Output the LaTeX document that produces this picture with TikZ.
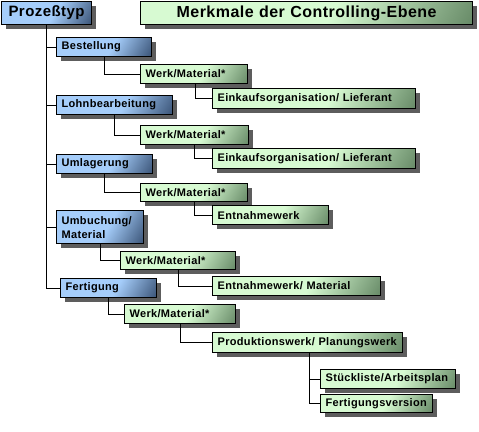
\documentclass[tikz,border=0pt]{standalone}
\usepackage{fontspec}
\setmainfont{Liberation Sans}[LetterSpace=3]
\usetikzlibrary{shadows}
\definecolor{bluelt}{RGB}{165,205,250}
\definecolor{bluedk}{RGB}{55,80,115}
\definecolor{greenlt}{RGB}{215,250,210}
\definecolor{greendk}{RGB}{100,135,100}
\pgfdeclarehorizontalshading{blueshade}{100bp}{color(0bp)=(bluelt); color(55bp)=(bluelt); color(85bp)=(bluedk); color(100bp)=(bluedk)}
\pgfdeclarehorizontalshading{greenshade}{100bp}{color(0bp)=(greenlt); color(55bp)=(greenlt); color(85bp)=(greendk); color(100bp)=(greendk)}
\tikzset{
  box/.style={draw=black, line width=1.2pt, anchor=north west, inner xsep=5pt, inner ysep=0pt,
    align=left, font=\bfseries\fontsize{11}{14}\selectfont,
    drop shadow={shadow xshift=4pt, shadow yshift=-4pt, fill=black!70, opacity=0.9}},
  bluebox/.style={box, shade, shading=blueshade, shading angle=-30},
  greenbox/.style={box, shade, shading=greenshade, shading angle=-30},
  bx/.style 2 args={text width=#1pt, minimum height=#2pt},
  conn/.style={draw=black, line width=0.8pt},
}
\begin{document}
\begin{tikzpicture}[x=1pt,y=-1pt]
\useasboundingbox[fill=white] (0,0) rectangle (479,431);
% header
\node[bluebox, bx={80}{23}, align=center, font=\bfseries\fontsize{15}{18}\selectfont] (P) at (1,1) {Prozeßtyp};
\node[greenbox, bx={322}{23}, align=center, font=\bfseries\fontsize{16}{19}\selectfont] (T) at (140,1) {Merkmale der Controlling-Ebene};
% Bestellung
\node[bluebox, bx={85}{19}] (b1) at (56,37) {Bestellung};
\node[greenbox, bx={97}{19}] (w1) at (140,64) {Werk/Material*};
\node[greenbox, bx={193}{20}] (e1) at (212,88) {Einkaufsorganisation/ Lieferant};
% Lohnbearbeitung
\node[bluebox, bx={106}{19}] (b2) at (56,95) {Lohnbearbeitung};
\node[greenbox, bx={98}{19}] (w2) at (140,125) {Werk/Material*};
\node[greenbox, bx={193}{20}] (e2) at (212,148) {Einkaufsorganisation/ Lieferant};
% Umlagerung
\node[bluebox, bx={86}{19}] (b3) at (56,154) {Umlagerung};
\node[greenbox, bx={97}{18}] (w3) at (140,183) {Werk/Material*};
\node[greenbox, bx={106}{19}] (e3) at (212,205) {Entnahmewerk};
% Umbuchung
\node[bluebox, bx={77}{33}] (b4) at (56,210) {Umbuchung/\\Material};
\node[greenbox, bx={105}{18}] (w4) at (120,251) {Werk/Material*};
\node[greenbox, bx={158}{19}] (e4) at (212,276) {Entnahmewerk/ Material};
% Fertigung
\node[bluebox, bx={86}{19}] (b5) at (60,278) {Fertigung};
\node[greenbox, bx={101}{19}] (w5) at (124,304) {Werk/Material*};
\node[greenbox, bx={180}{20}] (p5) at (212,332) {Produktionswerk/ Planungswerk};
\node[greenbox, bx={125}{19}] (s5) at (320,369) {Stückliste/Arbeitsplan};
\node[greenbox, bx={102}{18}] (f5) at (320,394) {Fertigungsversion};
% connectors
\draw[conn] (P.south) |- (b1.west);
\draw[conn] (P.south) |- (b2.west);
\draw[conn] (P.south) |- (b3.west);
\draw[conn] (P.south) |- (b4.west);
\draw[conn] (P.south) |- (b5.west);
\draw[conn] ([xshift=48pt]b1.south west) |- (w1.west);
\draw[conn] ([xshift=58pt]b2.south west) |- (w2.west);
\draw[conn] ([xshift=48pt]b3.south west) |- (w3.west);
\draw[conn] ([xshift=44pt]b4.south west) |- (w4.west);
\draw[conn] ([xshift=48pt]b5.south west) |- (w5.west);
\draw[conn] ([xshift=55pt]w1.south west) |- (e1.west);
\draw[conn] ([xshift=54pt]w2.south west) |- (e2.west);
\draw[conn] ([xshift=54pt]w3.south west) |- (e3.west);
\draw[conn] ([xshift=58pt]w4.south west) |- (e4.west);
\draw[conn] ([xshift=56pt]w5.south west) |- (p5.west);
\draw[conn] ([xshift=97pt]p5.south west) |- (s5.west);
\draw[conn] ([xshift=97pt]p5.south west) |- (f5.west);
\end{tikzpicture}
\end{document}
